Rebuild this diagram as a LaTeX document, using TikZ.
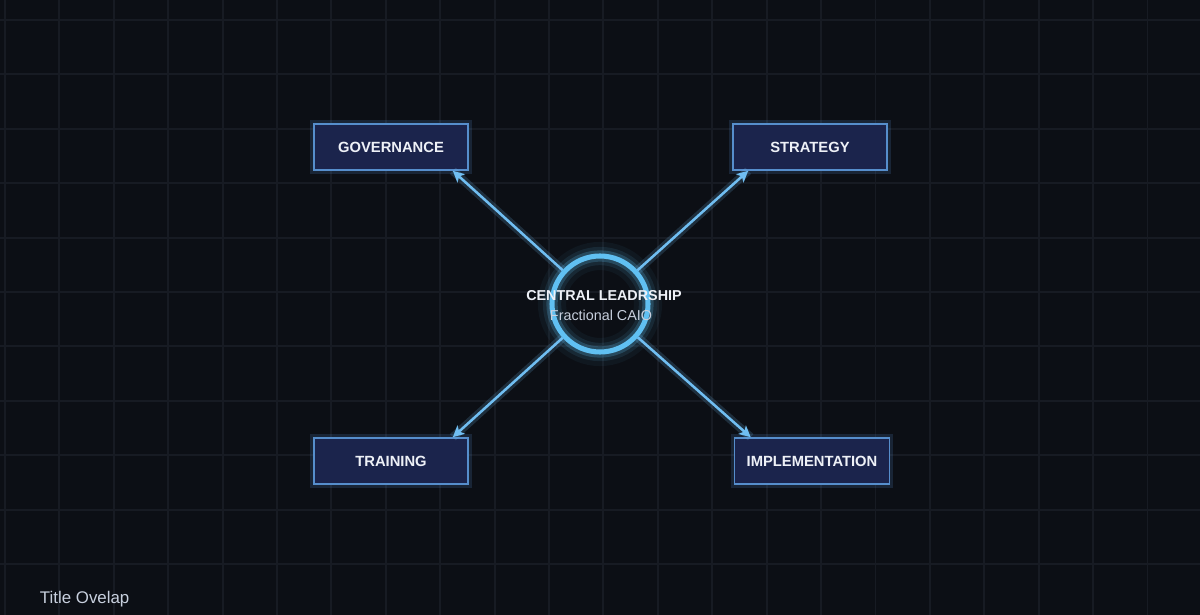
\documentclass[tikz,border=0pt]{standalone}
\usepackage{fontspec}
\setmainfont{Liberation Sans}
\usepackage{tikz}
\usetikzlibrary{arrows.meta,positioning}
\definecolor{bgdark}{RGB}{12,15,21}
\definecolor{gridline}{RGB}{23,27,35}
\definecolor{boxfill}{RGB}{27,36,76}
\definecolor{boxedge}{RGB}{86,142,204}
\definecolor{ringblue}{RGB}{96,192,242}
\definecolor{arrowblue}{RGB}{112,190,242}
\definecolor{textwhite}{RGB}{238,241,247}
\definecolor{subgrey}{RGB}{200,208,222}
\tikzstyle{pillar} = [draw=boxedge, line width=1.2pt, fill=boxfill, minimum width=154*0.025cm, minimum height=46*0.025cm, inner sep=0pt, font=\fontsize{10.5}{13}\selectfont\bfseries, text=textwhite]
\tikzstyle{halo} = [draw=boxedge, line width=5pt, opacity=0.18, minimum width=154*0.025cm, minimum height=46*0.025cm]
\tikzstyle{arrow} = [line width=1.8pt, -{Stealth[length=8pt,width=8pt,inset=2pt]}, color=arrowblue]
\tikzstyle{arrowglow} = [line width=6pt, color=arrowblue, opacity=0.18]

\begin{document}
\begin{tikzpicture}[x=0.025cm, y=-0.025cm]
% background and grid
\fill[bgdark] (0,0) rectangle (1200,615);
\useasboundingbox (0,0) rectangle (1200,615);
\foreach \i in {0,1,...,21} {
    \draw[gridline, line width=1.3pt] (5+\i*54.4,0) -- (5+\i*54.4,615);
}
\foreach \j in {0,1,...,10} {
    \draw[gridline, line width=1.3pt] (0,20+\j*54.4) -- (1200,20+\j*54.4);
}

% glow behind the boxes
\node[halo] at (391,147) {};
\node[halo] at (810,147) {};
\node[halo] at (391,461) {};
\node[halo] at (812,461) {};

% the four pillars
\node[pillar] (gov) at (391,147) {GOVERNANCE};
\node[pillar] (strat) at (810,147) {STRATEGY};
\node[pillar] (train) at (391,461) {TRAINING};
\node[pillar, minimum width=155*0.025cm] (impl) at (812,461) {IMPLEMENTATION};

% centre ring
\foreach \w/\o in {20pt/0.05, 13pt/0.1, 8pt/0.22} {
    \draw[ringblue, line width=\w, opacity=\o] (600,304) circle (48);
}
\node[circle, draw=ringblue, line width=3.6pt, minimum size=96*0.025cm, inner sep=0pt] (lead) at (600,304) {};

% arrows out to the pillars
\draw[arrowglow] (lead) -- ([xshift=-16*0.025cm]gov.south east);
\draw[arrowglow] (lead) -- ([xshift=16*0.025cm]strat.south west);
\draw[arrowglow] (lead) -- ([xshift=-16*0.025cm]train.north east);
\draw[arrowglow] (lead) -- ([xshift=17*0.025cm]impl.north west);
\draw[arrow] (lead) -- ([xshift=-16*0.025cm]gov.south east);
\draw[arrow] (lead) -- ([xshift=16*0.025cm]strat.south west);
\draw[arrow] (lead) -- ([xshift=-16*0.025cm]train.north east);
\draw[arrow] (lead) -- ([xshift=17*0.025cm]impl.north west);

% Labels
\node[text=textwhite, font=\fontsize{10.2}{13}\selectfont\bfseries] (leadname) at (604,296) {CENTRAL LEADRSHIP};
\node[text=subgrey, font=\fontsize{10.2}{12}\selectfont] (leadrole) at (601,315) {Fractional CAIO};
\node[text=subgrey, font=\fontsize{12}{14}\selectfont, anchor=base west] (title) at (35,603) {Title Ovelap};
\end{tikzpicture}
\end{document}
